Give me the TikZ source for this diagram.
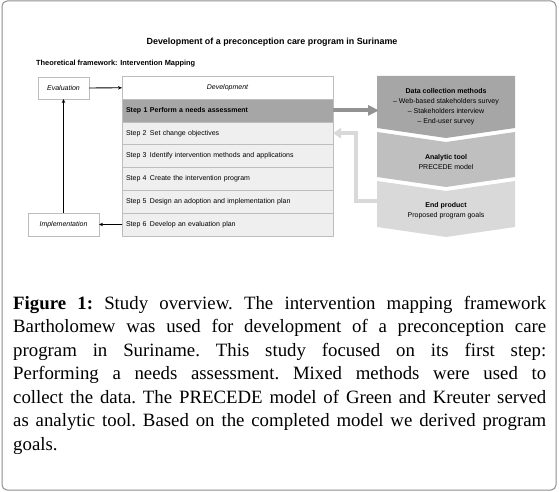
\documentclass[tikz,border=0pt]{standalone}
\usepackage{fontspec}
\setmainfont{Liberation Serif}
\setsansfont{Liberation Sans}
\usetikzlibrary{arrows.meta, positioning}
\definecolor{RowGray}{HTML}{EFEFEF}
\definecolor{DarkGray}{HTML}{A6A6A6}
\definecolor{MidGray}{HTML}{BFBFBF}
\definecolor{LightGray}{HTML}{D9D9D9}
\definecolor{LineGray}{HTML}{BDBDBD}
\definecolor{FrameGray}{HTML}{8E8E8E}
\definecolor{ArrowGray}{HTML}{939393}

\begin{document}
\begin{tikzpicture}[x=1pt, y=-1pt, >=Stealth,
  diag/.style={font=\sffamily\fontsize{7}{10.2}\selectfont},
  phase/.style={draw=LineGray, fill=white, inner sep=0pt, outer sep=0pt,
    font=\sffamily\itshape\fontsize{7}{10}\selectfont},
  steprow/.style={draw=LineGray, fill=RowGray, text width=203pt, inner xsep=4pt,
    inner ysep=0pt, outer sep=0pt, minimum height=22.8pt, align=left,
    font=\sffamily\fontsize{7}{10}\selectfont},
  link/.style={->, line width=0.8pt, >={Stealth[length=4pt, width=3.5pt]}},
  bigarrow/.style={-{Triangle[length=11pt, width=10pt]}, line width=4pt, ArrowGray},
  backarrow/.style={-{Triangle[length=8pt, width=10pt]}, line width=4pt, LightGray}]
  \useasboundingbox (0,0) rectangle (559,492);
  \draw[FrameGray, line width=1pt, rounded corners=5pt] (2,1) rectangle (556,490);

  % headings
  \node[font=\sffamily\bfseries\fontsize{8.9}{10}\selectfont] (title) at (272,42)
    {Development of a preconception care program in Suriname};
  \node[anchor=west, inner sep=0pt, font=\sffamily\bfseries\fontsize{7.4}{10}\selectfont] (frame) at (36,64)
    {Theoretical framework: Intervention Mapping};

  % intervention mapping steps
  \node[phase, minimum width=211pt, minimum height=23pt] (s0) at (227.5,87.5) {Development};
  \node[steprow, fill=DarkGray, below=0pt of s0] (s1)
    {\bfseries\makebox[24pt][l]{Step 1}Perform a needs assessment};
  \foreach \i/\txt [remember=\i as \prev (initially 1)] in
    {2/Set change objectives, 3/Identify intervention methods and applications,
     4/Create the intervention program, 5/Design an adoption and implementation plan,
     6/Develop an evaluation plan} {
    \node[steprow, below=0pt of s\prev] (s\i) {\makebox[24pt][l]{Step \i}\txt};
  }
  \node[phase, minimum width=51pt, minimum height=22pt] (eval) at (63.5,88) {Evaluation};
  \node[phase, minimum width=71pt, minimum height=23pt] (impl) at (63.5,224.5) {Implementation};
  \draw[link] (eval) -- (s0);
  \draw[link] (s6) -- (impl);
  \draw[link] (impl) -- (eval);

  % needs assessment chevrons
  \fill[DarkGray] (377,76) -- (515,76) -- (515,128) -- (446,138) -- (377,128) -- cycle;
  \fill[MidGray] (377,132) -- (446,142) -- (515,132) -- (515,177) -- (446,187) -- (377,177) -- cycle;
  \fill[LightGray] (377,181) -- (446,191) -- (515,181) -- (515,227) -- (446,237) -- (377,227) -- cycle;
  \node[diag, align=center] (collect) at (446,106.5)
    {\textbf{Data collection methods}\\ – Web-based stakeholders survey\\
     – Stakeholders interview\\ – End-user survey};
  \node[diag, align=center] (tool) at (446,162) {\textbf{Analytic tool}\\ PRECEDE model};
  \node[diag, align=center] (product) at (446,211) {\textbf{End product}\\ Proposed program goals};
  \coordinate (collectin) at (379,110.4);
  \coordinate (productout) at (377,201);
  \draw[bigarrow] (s1.east) -- (collectin);
  \draw[backarrow] (productout) -- ++(-21,0) |- (s2.east);

  % caption
  \node[anchor=north west, inner sep=0pt, text width=533pt, align=justify,
    font=\fontsize{18.8}{23.5}\selectfont] (caption) at (13,296)
    {\frenchspacing\tolerance=9999\hyphenpenalty=10000
     \textbf{Figure 1:} Study overview. The intervention mapping framework\linebreak
     Bartholomew was used for development of a preconception care\linebreak
     program in Suriname. This study focused on its first step:\linebreak
     Performing a needs assessment. Mixed methods were used to\linebreak
     collect the data. The PRECEDE model of Green and Kreuter served\linebreak
     as analytic tool. Based on the completed model we derived program\linebreak
     goals.};
\end{tikzpicture}
\end{document}
